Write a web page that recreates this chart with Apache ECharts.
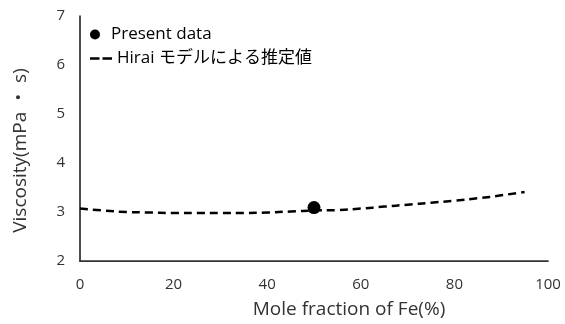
<!DOCTYPE html>
<html>
<head>
<meta charset="utf-8">
<script src="https://cdn.jsdelivr.net/npm/echarts@6/dist/echarts.min.js"></script>
<style>html,body{margin:0;padding:0;background:#fff}#c{width:565px;height:324px}</style>
</head>
<body>
<div id="c"></div>
<script>
const modelX = [0, 5, 10, 15, 20, 25, 30, 35, 40, 45, 50, 55, 60, 65, 70, 75, 80, 85, 90, 95];
const modelY = [3.07, 3.03, 3.00, 2.99, 2.98, 2.98, 2.98, 2.98, 2.99, 3.01, 3.03, 3.04, 3.07, 3.11, 3.15, 3.19, 3.23, 3.28, 3.34, 3.41];
const presentX = [50];
const presentY = [3.09];
const xTicks = [0, 20, 40, 60, 80, 100];
const yTicks = [2, 3, 4, 5, 6, 7];
const seriesNames = ['Present data', 'Hirai モデルによる推定値'];
const xTitle = 'Mole fraction of Fe(%)';
const yTitle = 'Viscosity(mPa ・ s)';

const font = '"Open Sans", "Noto Sans CJK JP", sans-serif';
const textColor = '#333';
const legendText = {fontFamily: font, fontSize: 17, color: '#000'};
const chart = echarts.init(document.getElementById('c'));
chart.setOption({
  animation: false,
  grid: {left: 80, right: 17, top: 16, bottom: 62},
  legend: [
    {
      left: 85, top: 21, itemWidth: 22, itemHeight: 10,
      textStyle: legendText,
      data: [{name: seriesNames[0], icon: 'circle'}]
    },
    {
      left: 85, top: 45, itemWidth: 22, itemHeight: 2.5,
      textStyle: legendText,
      data: [{name: seriesNames[1], icon: 'path://M0,0h9.5v2.5h-9.5z M12.5,0h9.5v2.5h-9.5z'}]
    }
  ],
  xAxis: {
    type: 'value', min: xTicks[0], max: xTicks[xTicks.length - 1], interval: 20,
    name: xTitle, nameLocation: 'middle', nameGap: 39,
    nameTextStyle: {fontFamily: font, fontSize: 19, color: textColor, padding: [0, 0, 0, 70]},
    axisLine: {lineStyle: {color: '#333', width: 1.75}},
    axisTick: {show: false}, splitLine: {show: false},
    axisLabel: {fontFamily: font, fontSize: 15, color: textColor, margin: 16}
  },
  yAxis: {
    type: 'value', min: yTicks[0], max: yTicks[yTicks.length - 1], interval: 1,
    name: yTitle, nameLocation: 'middle', nameGap: 50,
    nameTextStyle: {fontFamily: font, fontSize: 19, color: textColor, padding: [0, 24, 0, 0]},
    axisLine: {show: true, lineStyle: {color: '#333', width: 1.75}},
    axisTick: {show: false}, splitLine: {show: false},
    axisLabel: {fontFamily: font, fontSize: 15, color: textColor, margin: 15}
  },
  series: [
    {
      name: seriesNames[0], type: 'scatter', symbol: 'circle', symbolSize: 13,
      itemStyle: {color: '#000', opacity: 1},
      data: presentX.map((x, i) => [x, presentY[i]]), z: 3
    },
    {
      name: seriesNames[1], type: 'line', smooth: true, showSymbol: false, symbol: 'none',
      lineStyle: {color: '#000', width: 2.5, type: [8, 5]},
      itemStyle: {color: '#000'},
      data: modelX.map((x, i) => [x, modelY[i]])
    }
  ]
});
</script>
</body>
</html>
